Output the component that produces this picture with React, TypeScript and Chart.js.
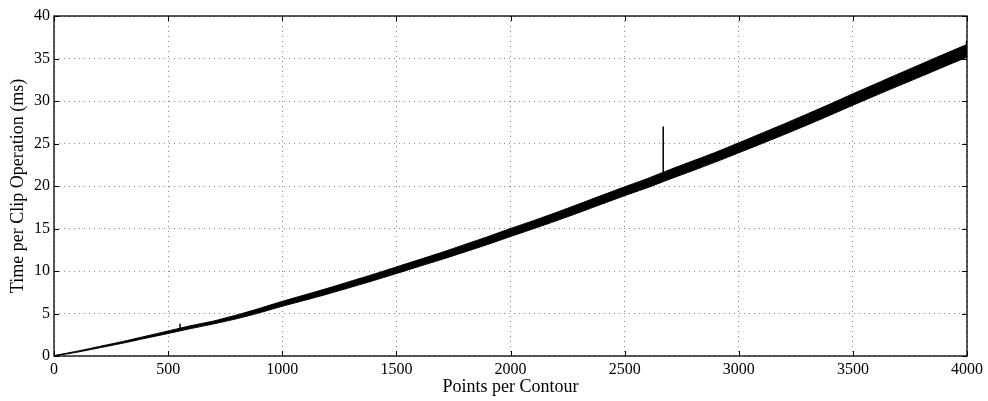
import React, { useEffect, useRef } from "react";
import { Chart, registerables } from "chart.js";

Chart.register(...registerables);

// Sample positions (points per contour)
const xs = [
  0, 100, 200, 300, 400, 500, 600, 700, 800, 900,
  1000, 1100, 1200, 1300, 1400, 1500, 1600, 1700, 1800, 1900,
  2000, 2100, 2200, 2300, 2400, 2500, 2600, 2700, 2800, 2900,
  3000, 3100, 3200, 3300, 3400, 3500, 3600, 3700, 3800, 3900, 4000,
];
// Lower edge of the noisy band (ms)
const lowerMs = [
  0, 0.44, 0.97, 1.5, 2.08, 2.65, 3.23, 3.78, 4.38, 5.08,
  5.85, 6.57, 7.3, 8.08, 8.87, 9.7, 10.54, 11.37, 12.24, 13.12,
  14.05, 14.97, 15.9, 16.87, 17.87, 18.86, 19.8, 20.83, 21.82, 22.84,
  23.9, 24.98, 26.06, 27.18, 28.33, 29.5, 30.65, 31.78, 32.9, 34.04, 35.15,
];
// Upper edge of the noisy band (ms)
const upperMs = [
  0.05, 0.56, 1.13, 1.7, 2.32, 2.95, 3.57, 4.12, 4.82, 5.6,
  6.43, 7.2, 7.98, 8.8, 9.62, 10.48, 11.34, 12.2, 13.12, 14.04,
  15.0, 15.92, 16.88, 17.88, 18.9, 19.9, 20.88, 21.94, 22.96, 23.98,
  25.08, 26.2, 27.32, 28.48, 29.64, 30.85, 32.02, 33.2, 34.36, 35.52, 36.65,
];
// Outlier spikes
const spikeX = [552, 2669, 3998];
const spikeBase = [3.1, 21.0, 36.4];
const spikeTop = [3.8, 27.0, 37.1];

const xTicks = [0, 500, 1000, 1500, 2000, 2500, 3000, 3500, 4000];
const yTicks = [0, 5, 10, 15, 20, 25, 30, 35, 40];

const FONT = "'Liberation Serif', 'DejaVu Serif', serif";

const boxPlugin = {
  id: "matlabBox",
  afterDraw(chart: any) {
    const { ctx, chartArea: a, scales } = chart;
    const xs_ = scales.x;
    const ys_ = scales.y;
    ctx.save();
    ctx.strokeStyle = "#000";
    ctx.lineWidth = 1;
    ctx.beginPath();
    const L = 5;
    xTicks.forEach((v) => {
      const px = Math.round(xs_.getPixelForValue(v)) + 0.5;
      ctx.moveTo(px, a.bottom);
      ctx.lineTo(px, a.bottom - L);
      ctx.moveTo(px, a.top);
      ctx.lineTo(px, a.top + L);
    });
    yTicks.forEach((v) => {
      const py = Math.round(ys_.getPixelForValue(v)) + 0.5;
      ctx.moveTo(a.left, py);
      ctx.lineTo(a.left + L, py);
      ctx.moveTo(a.right, py);
      ctx.lineTo(a.right - L, py);
    });
    ctx.stroke();
    ctx.lineWidth = 1.3;
    ctx.strokeRect(a.left, a.top, a.right - a.left, a.bottom - a.top);
    ctx.restore();
  },
};

export default function App() {
  const ref = useRef<HTMLCanvasElement>(null);
  useEffect(() => {
    if (!ref.current) return;
    const lower = xs.map((x, i) => ({ x, y: lowerMs[i] }));
    const upper = xs.map((x, i) => ({ x, y: upperMs[i] }));
    const spikes: any[] = [];
    spikeX.forEach((x, i) => {
      spikes.push({ x, y: spikeBase[i] });
      spikes.push({ x, y: spikeTop[i] });
      spikes.push({ x, y: null });
    });
    const chart = new Chart(ref.current, {
      type: "line",
      data: {
        datasets: [
          {
            data: lower,
            borderColor: "#000",
            borderWidth: 1,
            pointRadius: 0,
            fill: false,
            tension: 0.2,
          },
          {
            data: upper,
            borderColor: "#000",
            borderWidth: 1,
            pointRadius: 0,
            backgroundColor: "#000",
            fill: "-1",
            tension: 0.2,
          },
          {
            data: spikes,
            borderColor: "#000",
            borderWidth: 1.5,
            pointRadius: 0,
            fill: false,
            spanGaps: false,
          },
        ],
      },
      plugins: [boxPlugin],
      options: {
        animation: false,
        responsive: false,
        maintainAspectRatio: false,
        layout: { padding: { top: 16, right: 21, left: 0, bottom: 0 } },
        plugins: { legend: { display: false }, tooltip: { enabled: false } },
        scales: {
          x: {
            type: "linear",
            min: 0,
            max: 4000,
            afterFit: (s: any) => {
              s.height = 45;
            },
            afterBuildTicks: (s: any) => {
              s.ticks = xTicks.map((v) => ({ value: v }));
            },
            ticks: {
              color: "#000",
              padding: 4,
              maxRotation: 0,
              autoSkip: false,
              font: { family: FONT, size: 16 },
              callback: (v: any) => String(v),
            },
            grid: {
              color: "#888",
              lineWidth: 1,
              drawTicks: false,
            },
            border: { display: false, dash: [1, 4] },
            title: {
              display: true,
              text: "Points per Contour",
              color: "#000",
              font: { family: FONT, size: 18 },
              padding: { top: 0, bottom: 3 },
            },
          },
          y: {
            type: "linear",
            min: 0,
            max: 40,
            afterFit: (s: any) => {
              s.width = 54;
            },
            afterBuildTicks: (s: any) => {
              s.ticks = yTicks.map((v) => ({ value: v }));
            },
            ticks: {
              color: "#000",
              padding: 4,
              font: { family: FONT, size: 16 },
              callback: (v: any) => String(v),
            },
            grid: {
              color: "#888",
              lineWidth: 1,
              drawTicks: false,
            },
            border: { display: false, dash: [1, 4] },
            title: {
              display: true,
              text: "Time per Clip Operation (ms)",
              color: "#000",
              font: { family: FONT, size: 18 },
              padding: { top: 7, bottom: 0 },
            },
          },
        },
      },
    });
    return () => chart.destroy();
  }, []);
  return (
    <div style={{ position: "fixed", left: 0, top: 0, width: 988, height: 401, background: "#fff" }}>
      <canvas ref={ref} width={988} height={401} style={{ display: "block" }} />
    </div>
  );
}
